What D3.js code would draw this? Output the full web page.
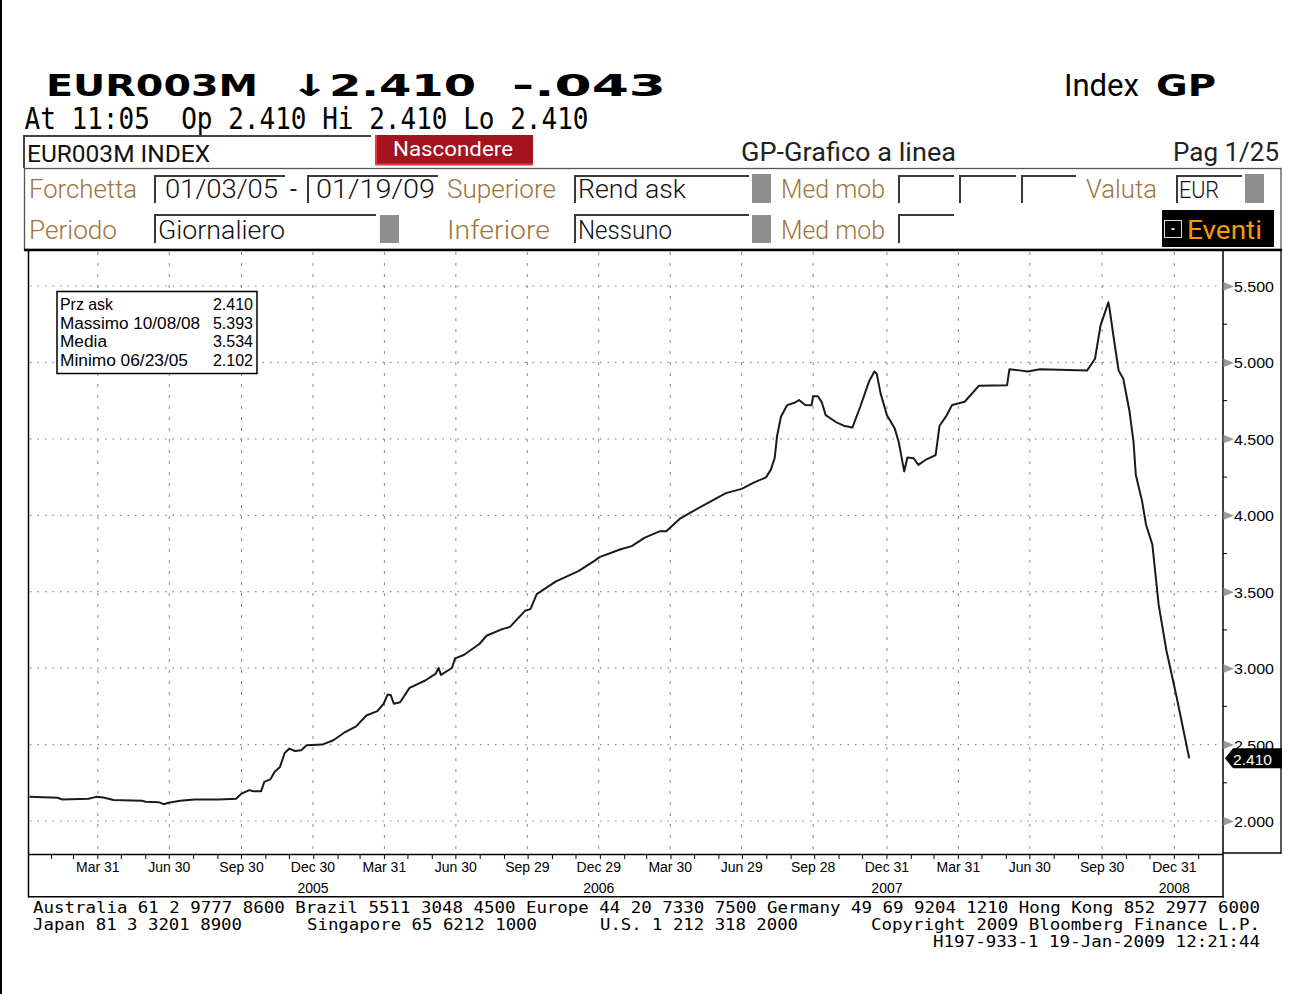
<!DOCTYPE html>
<html><head><meta charset="utf-8">
<script src="https://cdn.jsdelivr.net/npm/d3@7"></script>
<style>body{margin:0;background:#fff;} svg{display:block} text{white-space:pre}</style>
</head><body>
<script>
// ---- data ----
const dates = ["2005-01-03","2005-02-08","2005-02-13","2005-03-19","2005-03-29","2005-04-07","2005-04-20","2005-05-26","2005-05-31","2005-06-17","2005-06-23","2005-06-29","2005-07-14","2005-08-01","2005-09-01","2005-09-23","2005-09-30","2005-10-10","2005-10-15","2005-10-25","2005-10-29","2005-11-06","2005-11-11","2005-11-18","2005-11-24","2005-11-30","2005-12-07","2005-12-15","2005-12-22","2006-01-11","2006-01-25","2006-02-09","2006-02-23","2006-03-08","2006-03-22","2006-03-30","2006-04-04","2006-04-08","2006-04-12","2006-04-20","2006-05-02","2006-05-22","2006-06-04","2006-06-08","2006-06-11","2006-06-25","2006-06-29","2006-07-10","2006-07-30","2006-08-08","2006-08-28","2006-09-07","2006-09-26","2006-10-03","2006-10-11","2006-11-04","2006-12-03","2006-12-23","2006-12-30","2007-01-25","2007-02-09","2007-02-25","2007-03-17","2007-03-25","2007-04-12","2007-05-01","2007-05-30","2007-06-09","2007-06-29","2007-07-15","2007-07-30","2007-08-05","2007-08-10","2007-08-13","2007-08-18","2007-08-26","2007-09-05","2007-09-10","2007-09-18","2007-09-26","2007-09-28","2007-10-04","2007-10-09","2007-10-14","2007-10-27","2007-11-06","2007-11-17","2007-11-27","2007-12-08","2007-12-15","2007-12-18","2007-12-23","2007-12-31","2008-01-10","2008-01-15","2008-01-22","2008-01-26","2008-02-03","2008-02-09","2008-02-18","2008-03-02","2008-03-07","2008-03-15","2008-03-23","2008-04-08","2008-04-26","2008-06-01","2008-06-04","2008-06-17","2008-06-27","2008-07-13","2008-09-11","2008-09-21","2008-09-28","2008-10-08","2008-10-09","2008-10-15","2008-10-21","2008-10-27","2008-11-04","2008-11-09","2008-11-12","2008-11-20","2008-11-25","2008-12-03","2008-12-11","2008-12-21","2009-01-03","2009-01-19"];
const values = [2.158,2.152,2.141,2.145,2.158,2.154,2.137,2.132,2.126,2.122,2.110,2.119,2.132,2.141,2.141,2.145,2.179,2.202,2.195,2.195,2.256,2.274,2.321,2.354,2.445,2.474,2.458,2.463,2.495,2.500,2.528,2.582,2.619,2.690,2.719,2.767,2.827,2.825,2.767,2.777,2.871,2.919,2.962,3.001,2.956,3.001,3.064,3.086,3.158,3.212,3.255,3.270,3.375,3.386,3.484,3.566,3.635,3.700,3.726,3.776,3.798,3.852,3.896,3.896,3.980,4.036,4.117,4.145,4.173,4.215,4.248,4.297,4.373,4.515,4.645,4.721,4.738,4.754,4.721,4.720,4.779,4.779,4.740,4.655,4.610,4.586,4.574,4.710,4.873,4.941,4.926,4.796,4.655,4.567,4.480,4.287,4.378,4.373,4.330,4.362,4.394,4.586,4.645,4.721,4.743,4.847,4.851,4.955,4.948,4.941,4.955,4.948,5.024,5.241,5.393,5.370,5.155,4.948,4.893,4.677,4.482,4.264,4.091,3.938,3.810,3.417,3.114,2.810,2.410];
const tickDates = ["2005-03-31","2005-06-30","2005-09-30","2005-12-30","2006-03-31","2006-06-30","2006-09-29","2006-12-29","2007-03-30","2007-06-29","2007-09-28","2007-12-31","2008-03-31","2008-06-30","2008-09-30","2008-12-31"];
const tickLabels = ["Mar 31","Jun 30","Sep 30","Dec 30","Mar 31","Jun 30","Sep 29","Dec 29","Mar 30","Jun 29","Sep 28","Dec 31","Mar 31","Jun 30","Sep 30","Dec 31"];
const yearDates = ["2005-12-30","2006-12-29","2007-12-31","2008-12-31"];
const yearLabels = ["2005","2006","2007","2008"];
const yTicks = [2,2.5,3,3.5,4,4.5,5,5.5];
const yMinorTicks = [2.25,2.75,3.25,3.75,4.25,4.75,5.25];
const legendLabels = ["Prz ask","Massimo 10/08/08","Media","Minimo 06/23/05"];
const legendValues = ["2.410","5.393","3.534","2.102"];
const lastValue = 2.410;

// ---- setup ----
const W = 1303, H = 994;
const svg = d3.select("body").append("svg").attr("width", W).attr("height", H);
const parse = d3.timeParse("%Y-%m-%d");
const data = dates.map((d, i) => ({date: parse(d), value: values[i]}));
const x = d3.scaleTime().domain([parse("2005-01-03"), parse("2009-03-03")]).range([29.5, 1223]);
const y = d3.scaleLinear().domain([2, 5.5]).range([821, 286]);

const SANS = "Roboto, 'Liberation Sans', sans-serif";
const ARIAL = "'Liberation Sans', Arial, sans-serif";
const MONO = "'DejaVu Sans Mono', monospace";
const LBL = "#a0733a";

function T(g, xx, yy, s, o = {}) {
  const t = g.append("text").attr("x", xx).attr("y", yy).text(s)
    .attr("font-family", o.ff || SANS)
    .attr("font-size", o.fs || 24)
    .attr("fill", o.fill || "#111");
  if (o.fw) t.attr("font-weight", o.fw);
  if (o.anchor) t.attr("text-anchor", o.anchor);
  if (o.len) t.attr("textLength", o.len).attr("lengthAdjust", o.adj || "spacingAndGlyphs");
  return t;
}
function L(g, x1, y1, x2, y2, stroke = "#000", w = 1) {
  return g.append("line").attr("x1", x1).attr("y1", y1).attr("x2", x2).attr("y2", y2)
    .attr("stroke", stroke).attr("stroke-width", w);
}

// page left border
svg.append("rect").attr("x", 0).attr("y", 0).attr("width", 2).attr("height", H).attr("fill", "#000");

// ---- header ----
const hdr = svg.append("g");
const TF = {ff: "'DejaVu Sans', sans-serif", fw: "bold", fs: 30, fill: "#000"};
T(hdr, 46, 96, "EUR003M", Object.assign({len: 212}, TF));
T(hdr, 290, 96, "\u21932.410", Object.assign({len: 186}, TF));
T(hdr, 512, 96, "-.043", Object.assign({len: 154}, TF));
T(hdr, 1064, 96, "Index", {fs: 31, len: 75, fill: "#000"});
T(hdr, 1156, 96, "GP", {ff: "'DejaVu Sans', sans-serif", fw: "bold", fs: 31, len: 60, fill: "#000"});
T(hdr, 24.5, 129, "At 11:05  Op 2.410 Hi 2.410 Lo 2.410", {ff: MONO, fs: 30, len: 564, fill: "#000"});

// row 0
L(hdr, 24, 136, 371, 136, "#444", 2);
L(hdr, 24, 135, 24, 168, "#444", 2);
T(hdr, 27, 162, "EUR003M INDEX", {fs: 24, len: 183});
hdr.append("rect").attr("x", 375).attr("y", 135).attr("width", 158).attr("height", 30).attr("fill", "#a3141f");
L(hdr, 376, 135, 376, 165, "#e83a3a", 2);
L(hdr, 375, 164.5, 533, 164.5, "#e83a3a", 2);
T(hdr, 393, 156, "Nascondere", {fs: 21, len: 120, fill: "#fff"});
T(hdr, 741, 161, "GP-Grafico a linea", {fs: 25, len: 215, fill: "#222"});
T(hdr, 1173, 161, "Pag 1/25", {fs: 25, len: 106, fill: "#222"});

// field box
hdr.append("rect").attr("x", 24.5).attr("y", 168.5).attr("width", 1256.5).attr("height", 81)
  .attr("fill", "none").attr("stroke", "#555").attr("stroke-width", 1.3);
L(hdr, 24, 250, 1282, 250, "#000", 2.5);

function inBox(x1, x2, top, bottom) {
  L(hdr, x1, top, x2, top, "#3a3a3a", 2);
  L(hdr, x1, top - 1, x1, bottom, "#3a3a3a", 2);
}
function grayBtn(xx, yy, h) {
  hdr.append("rect").attr("x", xx).attr("y", yy).attr("width", 19).attr("height", h).attr("fill", "#8e8e8e");
}
const r1 = 198, r2 = 239;
const FW = "300";
// row 1
T(hdr, 29, r1, "Forchetta", {fs: 26, len: 108, fill: LBL, fw: FW});
inBox(155, 285, 176, 203);
T(hdr, 165, r1, "01/03/05", {fs: 25, len: 113, fw: FW});
T(hdr, 290, r1, "-", {fs: 25, fill: "#222"});
inBox(308, 438, 176, 203);
T(hdr, 316, r1, "01/19/09", {fs: 25, len: 119, fw: FW});
T(hdr, 447, r1, "Superiore", {fs: 26, len: 109, fill: LBL, fw: FW});
inBox(575, 749, 176, 203);
T(hdr, 578, r1, "Rend ask", {fs: 25, len: 108, fw: FW});
grayBtn(752, 174, 29);
T(hdr, 781, r1, "Med mob", {fs: 26, len: 104, fill: LBL, fw: FW});
inBox(899, 954, 176, 203);
inBox(960, 1016, 176, 203);
inBox(1022, 1076, 176, 203);
T(hdr, 1086, r1, "Valuta", {fs: 26, len: 71, fill: LBL, fw: FW});
inBox(1177, 1242, 176, 203);
T(hdr, 1179, r1, "EUR", {fs: 24, len: 40, fw: FW});
grayBtn(1245, 174, 29);
// row 2
T(hdr, 29, r2, "Periodo", {fs: 26, len: 88, fill: LBL, fw: FW});
inBox(155, 376, 215, 243);
T(hdr, 158, r2, "Giornaliero", {fs: 25, len: 127, fw: FW});
grayBtn(380, 215, 28);
T(hdr, 447, r2, "Inferiore", {fs: 26, len: 103, fill: LBL, fw: FW});
inBox(575, 749, 215, 243);
T(hdr, 578, r2, "Nessuno", {fs: 25, len: 94, fw: FW});
grayBtn(752, 215, 28);
T(hdr, 781, r2, "Med mob", {fs: 26, len: 104, fill: LBL, fw: FW});
inBox(899, 954, 215, 243);
hdr.append("rect").attr("x", 1162).attr("y", 210).attr("width", 112).attr("height", 37).attr("fill", "#000");
hdr.append("rect").attr("x", 1164.5).attr("y", 220.5).attr("width", 17).attr("height", 17)
  .attr("fill", "none").attr("stroke", "#ddd").attr("stroke-width", 1);
hdr.append("rect").attr("x", 1171.5).attr("y", 228).attr("width", 3).attr("height", 2).attr("fill", "#ddd");
T(hdr, 1187, r2, "Eventi", {fs: 26, len: 75, fill: "#f59a00"});

// ---- chart ----
const ch = svg.append("g");
// gridlines
tickDates.forEach(d => {
  L(ch, x(parse(d)), 252, x(parse(d)), 854, "#8a8a8a", 1).attr("stroke-dasharray", "3,8");
});
yTicks.forEach(v => {
  L(ch, 30, y(v), 1222, y(v), "#8a8a8a", 1.2).attr("stroke-dasharray", "1.5,6");
});

// data line
const line = d3.line().x(d => x(d.date)).y(d => y(d.value));
ch.append("path").datum(data).attr("d", line).attr("fill", "none")
  .attr("stroke", "#1a1a1a").attr("stroke-width", 2).attr("stroke-linejoin", "round");

// frame
L(ch, 28.5, 250, 28.5, 897.5, "#000", 1.5);
L(ch, 28, 854.5, 1223, 854.5, "#000", 1.5);
L(ch, 28, 896.8, 1223.5, 896.8, "#000", 1.5);
L(ch, 1223, 250, 1223, 897.5, "#000", 1.5);
L(ch, 1281, 250, 1281, 853.5, "#000", 1.3);
L(ch, 1223, 853, 1281.5, 853, "#000", 1.3);

// x axis ticks and labels
const months = d3.timeMonth.range(parse("2005-02-01"), parse("2009-03-01")).map(m => d3.timeDay.offset(m, -1));
months.forEach(m => { L(ch, x(m), 855, x(m), 859, "#000", 1); });
tickDates.forEach((d, i) => {
  T(ch, x(parse(d)), 872, tickLabels[i], {ff: ARIAL, fs: 14, anchor: "middle", fill: "#000"});
});
yearDates.forEach((d, i) => {
  T(ch, x(parse(d)), 893, yearLabels[i], {ff: ARIAL, fs: 14, anchor: "middle", fill: "#000"});
});

// y axis (right)
const fmt = d3.format(".3f");
yMinorTicks.forEach(v => { L(ch, 1223, y(v), 1227, y(v), "#000", 1); });
yTicks.forEach(v => {
  const yy = y(v);
  ch.append("path").attr("d", `M1223.5,${yy - 4}L1234,${yy + 0.5}L1223.5,${yy + 4.5}Z`).attr("fill", "#9a9a9a");
  T(ch, 1234, yy + 6, fmt(v), {ff: ARIAL, fs: 15, len: 40, fill: "#000"});
});
// last value marker
const yl = y(lastValue);
ch.append("path").attr("d", `M1225,${yl}L1233,${yl - 10}L1282,${yl - 10}L1282,${yl + 10}L1233,${yl + 10}Z`).attr("fill", "#000");
T(ch, 1233, yl + 6.5, fmt(lastValue), {ff: ARIAL, fs: 15, len: 39, fill: "#fff"});

// legend box
const lg = svg.append("g");
lg.append("rect").attr("x", 57).attr("y", 291.5).attr("width", 200).attr("height", 82)
  .attr("fill", "#fff").attr("stroke", "#000").attr("stroke-width", 1.5);
const lgLen = [53, 140, 47, 128];
legendLabels.forEach((s, i) => {
  const yy = 310 + i * 18.5;
  T(lg, 60, yy, s, {ff: ARIAL, fs: 16, len: lgLen[i], fill: "#000"});
  T(lg, 253, yy, legendValues[i], {ff: ARIAL, fs: 16, anchor: "end", fill: "#000"});
});

// ---- footer ----
const ft = svg.append("g");
T(ft, 33, 913, "Australia 61 2 9777 8600 Brazil 5511 3048 4500 Europe 44 20 7330 7500 Germany 49 69 9204 1210 Hong Kong 852 2977 6000", {ff: MONO, fs: 16, len: 1227, fill: "#000"});
T(ft, 33, 930, "Japan 81 3 3201 8900", {ff: MONO, fs: 16, len: 209, fill: "#000"});
T(ft, 307, 930, "Singapore 65 6212 1000", {ff: MONO, fs: 16, len: 230, fill: "#000"});
T(ft, 600, 930, "U.S. 1 212 318 2000", {ff: MONO, fs: 16, len: 198, fill: "#000"});
T(ft, 871, 930, "Copyright 2009 Bloomberg Finance L.P.", {ff: MONO, fs: 16, len: 389, fill: "#000"});
T(ft, 933, 947, "H197-933-1 19-Jan-2009 12:21:44", {ff: MONO, fs: 16, len: 327, fill: "#000"});
</script>
</body></html>
